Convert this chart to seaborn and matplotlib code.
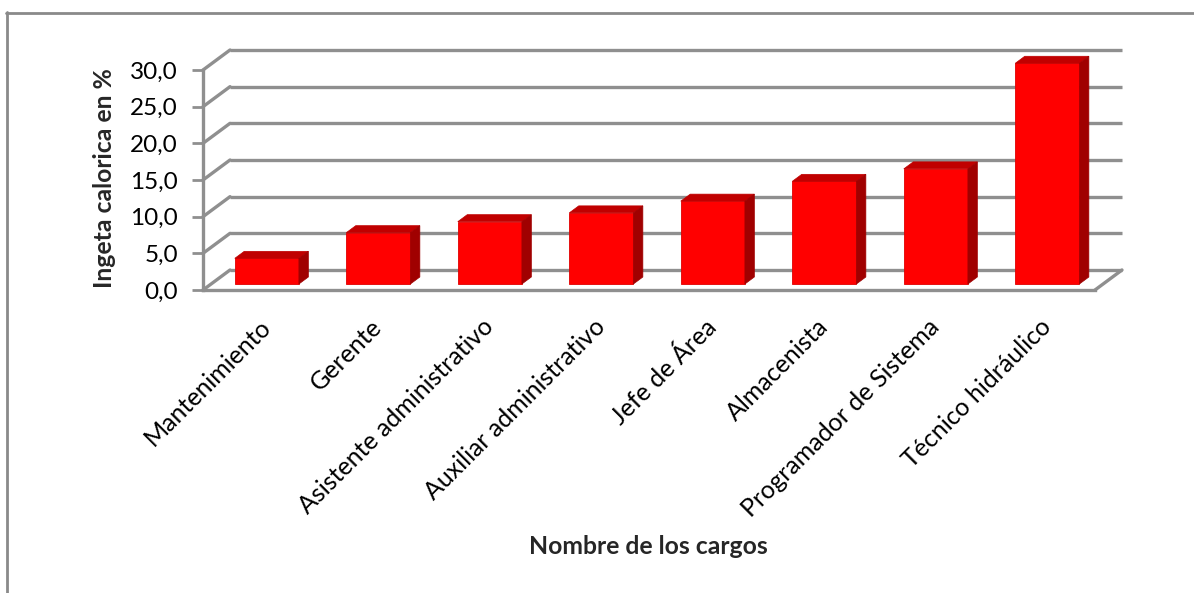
import matplotlib
matplotlib.use("Agg")
import matplotlib.pyplot as plt
from matplotlib.patches import Polygon
from matplotlib.lines import Line2D
import seaborn as sns
import pandas as pd

# ---- data ----
categories = ["Mantenimiento", "Gerente", "Asistente administrativo",
              "Auxiliar administrativo", "Jefe de Área", "Almacenista",
              "Programador de Sistema", "Técnico hidráulico"]
values = [3.5, 7.0, 8.5, 9.7, 11.3, 14.0, 15.7, 30.1]
y_ticks = [0, 5, 10, 15, 20, 25, 30]
x_title = "Nombre de los cargos"
y_title = "Ingeta calorica en %"

sns.set_theme(style="white")
plt.rcParams['font.family'] = ['Lato', 'DejaVu Sans']

W, H = 1194, 593
fig = plt.figure(figsize=(W / 100, H / 100), dpi=100)
fig.patch.set_facecolor("white")
# front plane: x from px 203 to 1095, y(0)=px 290, y(30)=px 70
ax = fig.add_axes([203 / W, (H - 290) / H, (1095 - 203) / W, 220 / H])

df = pd.DataFrame({"cargo": categories, "valor": values})
sns.barplot(data=df, x="cargo", y="valor", color="#ff0000", saturation=1,
            width=0.575, ax=ax, zorder=3)

ax.set_xlim(-0.5, 7.5)
ax.set_ylim(0, 30)

# depth offsets in data units (px 27 right, 20 up)
px_x = (1095 - 203) / 8.0
px_y = 220 / 30.0
DX = 27 / px_x
DY = 20 / px_y

grid_c = "#8f8f8f"
glw = 2.4
# back wall gridlines + left wall diagonals
for v in y_ticks:
    ax.add_line(Line2D([-0.5 + DX, 7.5 + DX * 1.0], [v + DY, v + DY],
                       color=grid_c, lw=glw, clip_on=False, zorder=1,
                       solid_capstyle="butt"))
    ax.add_line(Line2D([-0.5, -0.5 + DX], [v, v + DY], color=grid_c, lw=glw,
                       clip_on=False, zorder=1))
# floor right diagonal
ax.add_line(Line2D([7.5, 7.5 + DX], [0, DY], color=grid_c, lw=glw,
                   clip_on=False, zorder=1))

# 3D bars: shift front faces into depth, add top and side faces
f0, d = 0.30, 0.35
for p in list(ax.patches):
    x0 = p.get_x() + f0 * DX
    y0 = f0 * DY
    w = p.get_width()
    h = p.get_height()
    p.set_x(x0)
    p.set_y(y0)
    p.set_edgecolor("#e00000")
    p.set_linewidth(0.6)
    top = Polygon([(x0, y0 + h), (x0 + w, y0 + h),
                   (x0 + w + d * DX, y0 + h + d * DY), (x0 + d * DX, y0 + h + d * DY)],
                  closed=True, facecolor="#c00000", edgecolor="#c00000",
                  lw=0.5, zorder=3, clip_on=False)
    side = Polygon([(x0 + w, y0), (x0 + w + d * DX, y0 + d * DY),
                    (x0 + w + d * DX, y0 + h + d * DY), (x0 + w, y0 + h)],
                   closed=True, facecolor="#a00000", edgecolor="#a00000",
                   lw=0.5, zorder=3, clip_on=False)
    p.set_clip_on(False)
    ax.add_patch(top)
    ax.add_patch(side)

# spines
for s in ["top", "right"]:
    ax.spines[s].set_visible(False)
for s in ["left", "bottom"]:
    ax.spines[s].set_color(grid_c)
    ax.spines[s].set_linewidth(glw)
    ax.spines[s].set_zorder(2)
ax.set_facecolor("none")

ax.set_yticks(y_ticks)
ax.set_yticklabels([f"{v:.1f}".replace(".", ",") for v in y_ticks])
ax.tick_params(axis="y", length=8, width=2, color=grid_c, pad=10,
               labelsize=17.5, labelcolor="black", left=True)
ax.set_xticks(range(len(categories)))
ax.set_xticklabels(categories, rotation=45, ha="right",
                   rotation_mode="anchor", fontsize=18)
ax.tick_params(axis="x", length=0, pad=18, labelcolor="black")

ax.set_xlabel("")
ax.set_ylabel("")
fig.text(648 / W, 1 - 547 / H, x_title, ha="center", va="center",
         fontsize=17.8, fontweight="bold")
fig.text(105 / W, 1 - 178 / H, y_title, ha="center", va="center",
         rotation=90, fontsize=17.8, fontweight="bold")

# partial chart border (top and left)
fig.add_artist(Line2D([6 / W, 1], [1 - 12.5 / H, 1 - 12.5 / H],
                      transform=fig.transFigure, color="#8a8a8a", lw=2))
fig.add_artist(Line2D([6.5 / W, 6.5 / W], [1 - 12 / H, 0],
                      transform=fig.transFigure, color="#8a8a8a", lw=2))

fig.savefig("out.png", dpi=100, facecolor="white")
